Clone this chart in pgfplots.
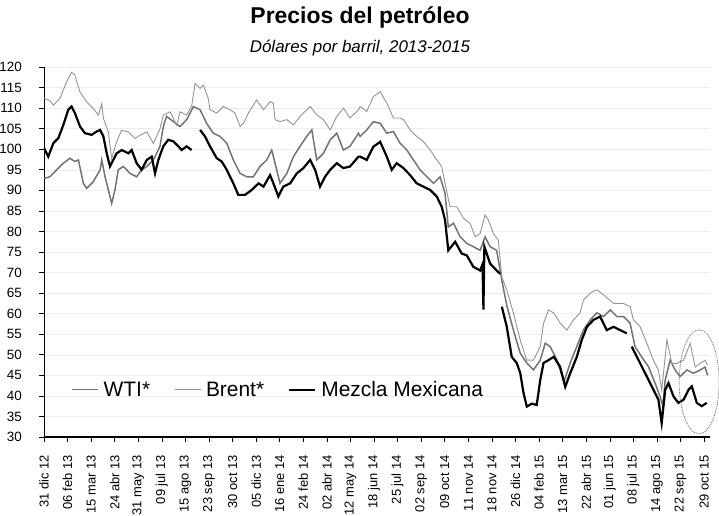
\documentclass[border=0pt]{standalone}
\usepackage{fontspec}
\setmainfont{Liberation Sans}
\usepackage{pgfplots}
\pgfplotsset{compat=1.18}
\begin{document}
\begin{tikzpicture}
\useasboundingbox (-44bp,-79bp) rectangle (675bp,437bp);
\node[font=\bfseries\fontsize{23}{26}\selectfont] at (316bp,420bp) {Precios del petróleo};
\node[font=\itshape\fontsize{17}{20}\selectfont] at (316bp,389bp) {Dólares por barril, 2013-2015};
\begin{axis}[
  at={(0,0)}, anchor=south west,
  scale only axis, width=666bp, height=370bp,
  xmin=0, xmax=28.25, ymin=30, ymax=120,
  axis x line=bottom, axis y line=left,
  axis line style={-, black},
  x axis line style={line width=1.2bp},
  y axis line style={line width=0.6bp},
  ytick={30,35,...,120},
  xtick={0,...,28},
  xticklabels={31 dic 12,06 feb 13,15 mar 13,24 abr 13,31 may 13,09 jul 13,15 ago 13,23 sep 13,30 oct 13,05 dic 13,16 ene 14,24 feb 14,02 abr 14,12 may 14,18 jun 14,25 jul 14,02 sep 14,09 oct 14,11 nov 14,18 nov 14,26 dic 14,04 feb 15,13 mar 15,22 abr 15,01 jun 15,08 jul 15,14 ago 15,22 sep 15,29 oct 15},
  tick align=outside, major tick length=5bp,
  tick style={black, line width=0.6bp},
  /pgf/number format/assume math mode=true,
  yticklabel style={font=\fontsize{13.5}{15}\selectfont, inner sep=0bp},
  yticklabel shift=17bp,
  xticklabel style={font=\fontsize{13}{15}\selectfont, rotate=90, anchor=east, inner sep=0bp},
  xticklabel shift=13bp,
  ymajorgrids, grid style={black!7, line width=0.5bp},
  unbounded coords=jump,
  clip=false,
  legend columns=-1,
  legend style={draw=none, fill=none, at={(0.036,0.128)}, anchor=west,
    font=\fontsize{21}{24}\selectfont,
    /tikz/every odd column/.append style={column sep=3bp},
    /tikz/every even column/.append style={column sep=22bp}},
  legend image code/.code={\draw[#1] (0bp,0bp) -- (26bp,0bp);},
]
\addplot[black!55, line width=1.5bp] coordinates {
(0.01,92.9) (0.25,93.3) (0.54,95) (0.82,96.6) (1.10,97.8) (1.31,97) (1.46,97.4) (1.67,91.7) (1.81,90.5) (2.09,92.1) (2.38,95) (2.45,97.4) (2.59,93.3) (2.73,90.1) (2.87,86.8) (3.01,90.1) (3.15,95) (3.37,95.8) (3.65,94.1) (3.93,93.3) (4.14,95) (4.36,95.8) (4.64,97.4) (4.92,100.7) (5.06,105.5) (5.20,108) (5.49,106.7) (5.77,105.5) (6.05,107.2) (6.34,110.4) (6.62,109.6) (6.90,106.3) (7.18,103.9) (7.47,103.1) (7.75,101.5) (8.03,97.4) (8.32,94.1) (8.60,93.3) (8.88,93.3) (9.16,95.8) (9.45,97.4) (9.66,99.8) (9.87,95) (10.01,91.7) (10.30,94.1) (10.58,98.2) (10.86,100.7) (11.14,103.1) (11.36,104.7) (11.57,97.4) (11.85,99) (12.14,102.3) (12.42,103.9) (12.70,99.8) (12.98,100.7) (13.34,103.9)
(13.41,103.1) (13.69,104.7) (13.97,106.7) (14.26,106.3) (14.54,103.9) (14.82,104.3) (15.10,101.5) (15.39,99.8) (15.67,97.4) (15.95,95) (16.24,93.3) (16.52,91.7) (16.80,93.3) (17.01,89.3) (17.15,81.1) (17.37,82) (17.65,78.7) (17.93,77.1) (18.21,76.3) (18.50,75.4) (18.71,78.7) (18.92,76.3) (19.20,75.4) (19.42,68.1) (19.63,62) (19.91,56) (20.20,50.4) (20.48,48) (20.76,46.3) (21.05,48.7) (21.26,52.8) (21.47,52) (21.76,48.7) (22.06,43.5) (22.32,48) (22.60,52) (22.88,56) (23.17,58.5) (23.45,60.2) (23.73,59.3) (24.02,60.9) (24.30,59.3) (24.58,59.3) (24.86,57.7) (25.07,52) (25.35,49.5) (25.64,47.1) (25.92,43.1) (26.13,39.9) (26.25,37.5) (26.35,43.9) (26.56,48.7) (26.77,46.3) (26.98,44.7) (27.27,46.3) (27.55,45.5) (27.83,46.3) (28.04,47) (28.15,45)
};
\addlegendentry{WTI*}
\addplot[black!42, line width=0.9bp] coordinates {
(0.01,112.4) (0.25,111.8) (0.40,110.7) (0.68,112.4) (0.96,116.4) (1.17,118.7) (1.31,118.1) (1.39,116.4) (1.53,113.9) (1.81,111.5) (2.09,109.9) (2.31,108.3) (2.45,111.1) (2.52,107.5) (2.73,104.2) (2.87,97.7) (3.08,101.8) (3.29,104.6) (3.58,104.2) (3.86,102.6) (4.07,103.4) (4.36,104.2) (4.64,101.4) (4.92,105) (5.06,108.3) (5.35,109.1) (5.63,105.8) (5.77,109.1) (6.05,108.3) (6.27,110.7) (6.41,116) (6.62,114.8) (6.76,115.6) (6.97,112.3) (7.04,109.6) (7.33,108.8) (7.61,110.4) (7.89,109.6) (8.10,108.8) (8.32,105.5) (8.46,106.3) (8.67,108.8) (9.02,112) (9.31,109.6) (9.59,111.6) (9.73,111.2) (9.80,107.2) (10.01,106.7) (10.30,107.2) (10.58,105.9) (10.86,108) (11.29,110.4) (11.57,108.4) (11.85,107.2) (12.14,104.7) (12.42,108) (12.70,110) (12.98,107.6) (13.34,109.6)
(13.41,110.4) (13.69,109.2) (13.97,112.8) (14.26,114.0) (14.54,111.2) (14.82,107.6) (15.10,107.6) (15.25,107.2) (15.53,104.7) (15.81,103.1) (16.09,101.9) (16.38,99.8) (16.66,97.4) (16.87,95.8) (17.01,91.7) (17.22,86) (17.51,86) (17.79,83.2) (18.07,82) (18.29,78.7) (18.50,79.5) (18.71,84) (18.85,82.8) (19.06,79.5) (19.27,77.9) (19.42,68.9) (19.63,65.7) (19.91,60.2) (20.20,53.6) (20.48,48.7) (20.76,48.7) (21.05,52.0) (21.19,57.7) (21.40,60.9) (21.62,60.2) (21.89,57.7) (22.18,56.0) (22.46,58.5) (22.74,60.2) (22.88,63.3) (23.17,65.0) (23.45,65.8) (23.73,64.6) (24.16,62.5) (24.58,62.5) (24.86,61.7) (25.00,58.5) (25.28,56.9) (25.57,52.8) (25.85,48.7) (26.06,46.3) (26.20,41.4) (26.35,49.5) (26.42,53.6) (26.63,47.9) (26.84,47.9) (27.13,48.7) (27.41,52.8) (27.62,47) (27.83,47.9) (28.04,48.7) (28.15,47.5)
};
\addlegendentry{Brent*}
\addplot[black, line width=2.2bp] coordinates {
(0.01,100.2) (0.18,98.2) (0.40,101.5) (0.61,102.7) (0.82,105.9) (1.03,109.6) (1.17,110.4) (1.31,108.8) (1.53,105.5) (1.74,103.9) (2.02,103.5) (2.23,104.3) (2.38,104.7) (2.52,103.1) (2.66,99) (2.80,95.8) (2.94,97.4) (3.08,99) (3.30,99.8) (3.58,99) (3.72,99.8) (3.93,96.6) (4.14,95) (4.36,97.4) (4.57,98.2) (4.71,94.1) (4.85,97.4) (5.06,100.7) (5.27,102.3) (5.49,101.9) (5.70,100.7) (5.84,99.8) (6.05,100.7) (6.26,99.8) (6.40,nan)
(6.62,104.7) (6.83,103.1) (7.04,100.7) (7.33,97.8) (7.54,97) (7.75,95) (8.03,91.7) (8.24,88.9) (8.53,88.9) (8.81,90.1) (9.10,91.7) (9.31,90.9) (9.59,93.7) (9.73,91.7) (9.94,88.5) (10.15,90.9) (10.44,91.7) (10.72,94.1) (11.00,95.4) (11.29,97.4) (11.50,95) (11.71,90.9) (11.92,93.3) (12.14,95) (12.42,96.6) (12.70,95.4) (12.98,95.8) (13.34,98.2)
(13.41,98.2) (13.69,97.4) (13.97,100.6) (14.26,101.8) (14.54,98.2) (14.75,95) (14.96,96.6) (15.25,95.4) (15.53,93.7) (15.81,91.7) (16.09,90.9) (16.38,90.1) (16.66,88.5) (16.87,86) (17.01,82.8) (17.15,75.4) (17.44,77.5) (17.72,74.6) (17.93,74.2) (18.21,71.4) (18.50,70.5) (18.60,72) (18.64,61) (18.68,76.3) (18.92,72.2) (19.20,70.5) (19.35,69.7) (19.39,nan)
(19.42,61.7) (19.63,56.8) (19.84,49.5) (20.05,48) (20.20,45.6) (20.34,40.7) (20.48,37.4) (20.69,38.1) (20.90,37.8) (21.05,43.9) (21.19,48) (21.40,48.7) (21.62,49.5) (21.89,47.1) (22.11,42.2) (22.32,45.5) (22.60,49.5) (22.81,53.6) (23.03,56.8) (23.31,58.5) (23.59,59.3) (23.87,56) (24.16,56.8) (24.44,56) (24.72,55.2) (24.80,nan)
(24.93,52) (25.07,50.4) (25.28,48) (25.57,44.7) (25.85,41.5) (26.06,39.1) (26.20,33.4) (26.35,41.5) (26.49,43.1) (26.70,39.9) (26.91,38.3) (27.13,39.1) (27.34,41.5) (27.48,42.3) (27.69,38.3) (27.90,37.5) (28.11,38.3)
};
\addlegendentry{Mezcla Mexicana}
\draw[black!55, densely dotted, line width=0.9bp] (axis cs:27.79,43.4) ellipse [x radius=20bp, y radius=52bp];
\end{axis}
\end{tikzpicture}
\end{document}
